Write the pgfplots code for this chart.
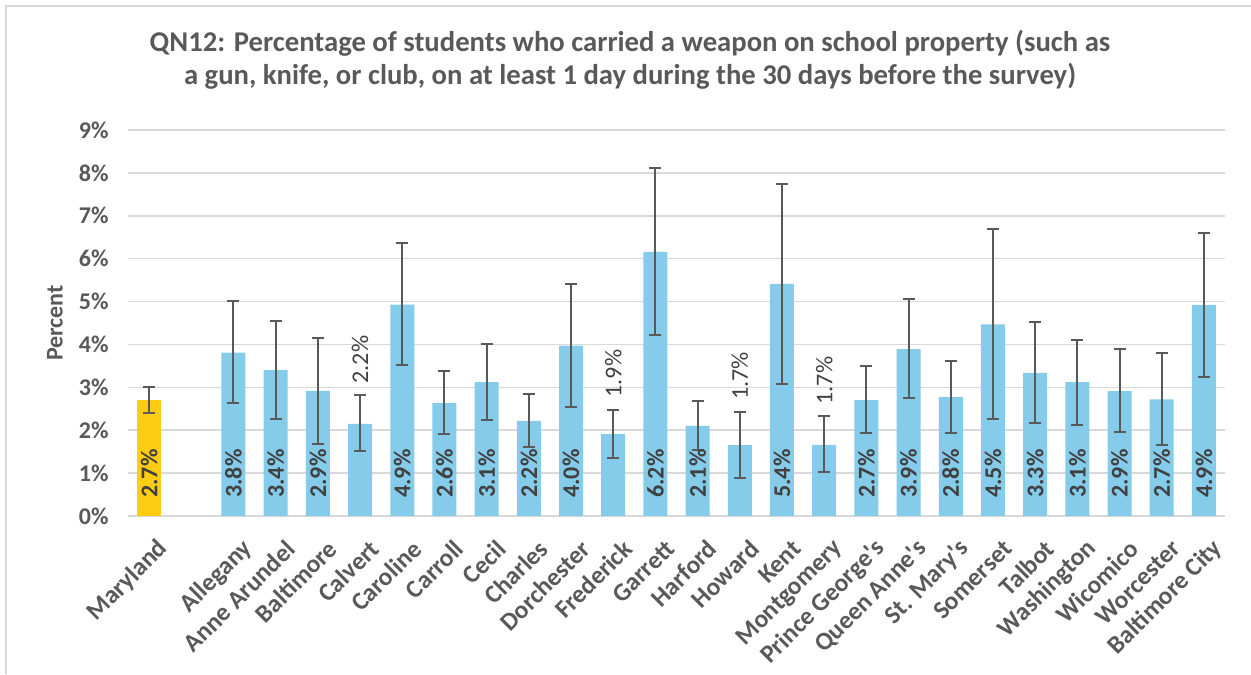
\documentclass[border=0pt]{standalone}
\usepackage{pgfplots}
\pgfplotsset{compat=1.18}
\usepackage{pgfplotstable}
\usepackage{fontspec}
\setmainfont{Carlito}
\definecolor{txt}{HTML}{595959}
\definecolor{lbl}{HTML}{404040}
\definecolor{barblue}{HTML}{85CBEA}
\definecolor{gold}{HTML}{FFCC14}
\definecolor{gridc}{HTML}{D9D9D9}
\definecolor{errc}{HTML}{595959}
\newcommand\tfont{\fontsize{18}{21.6}\selectfont\bfseries}
\newcommand\xfont{\fontsize{19}{23}\selectfont\bfseries}

\pgfplotstableread{
x y ep em
2 3.81 1.20 1.18
3 3.40 1.15 1.14
4 2.92 1.24 1.23
5 2.15 0.66 0.63
6 4.93 1.43 1.42
7 2.63 0.74 0.72
8 3.12 0.89 0.88
9 2.22 0.62 0.60
10 3.97 1.45 1.44
11 1.91 0.57 0.55
12 6.16 1.95 1.93
13 2.10 0.57 0.55
14 1.65 0.77 0.76
15 5.41 2.32 2.33
16 1.66 0.66 0.63
17 2.70 0.79 0.76
18 3.89 1.17 1.15
19 2.77 0.84 0.83
20 4.47 2.23 2.21
21 3.34 1.19 1.18
22 3.12 0.99 0.99
23 2.91 0.98 0.96
24 2.72 1.07 1.07
25 4.92 1.68 1.68
}\county

\pgfplotstableread{
x y ep em
0 2.70 0.31 0.29
}\state

\pgfplotstableread{
x ly lab
0 0 2.7
2 0 3.8
3 0 3.4
4 0 2.9
6 0 4.9
7 0 2.6
8 0 3.1
9 0 2.2
10 0 4.0
12 0 6.2
13 0 2.1
15 0 5.4
17 0 2.7
18 0 3.9
19 0 2.8
20 0 4.5
21 0 3.3
22 0 3.1
23 0 2.9
24 0 2.7
25 0 4.9
}\inlab

\pgfplotstableread{
x ly lab
5 2.81 2.2
11 2.48 1.9
14 2.42 1.7
16 2.32 1.7
}\outlab

\begin{document}
\begin{tikzpicture}
\draw[gridc, line width=1pt] (4.5pt,0) -- (4.5pt,501pt) -- (938.25pt,501pt);
\node[anchor=base, font=\fontsize{21.5}{25}\selectfont\bfseries, text=txt] at (472.5pt,467pt)
  {QN12: Percentage of students who carried a weapon on school property (such as};
\node[anchor=base, font=\fontsize{21.5}{25}\selectfont\bfseries, text=txt] at (472.5pt,442pt)
  {a gun, knife, or club, on at least 1 day during the 30 days before the survey)};
\begin{axis}[
  at={(96pt,118.5pt)}, anchor=south west,
  scale only axis, width=822.75pt, height=289.5pt,
  xmin=-0.5, xmax=25.5, ymin=0, ymax=9,
  clip=false,
  axis line style={draw=none},
  tick style={draw=none},
  ymajorgrids,
  major grid style={gridc, line width=1.1pt},
  ytick={0,1,2,3,4,5,6,7,8,9},
  yticklabels={0\%,1\%,2\%,3\%,4\%,5\%,6\%,7\%,8\%,9\%},
  yticklabel style={font=\tfont, text=txt, xshift=-11pt},
  xtick={0,2,3,4,5,6,7,8,9,10,11,12,13,14,15,16,17,18,19,20,21,22,23,24,25},
  xticklabels={Maryland,Allegany,Anne Arundel,Baltimore,Calvert,Caroline,Carroll,Cecil,Charles,Dorchester,Frederick,Garrett,Harford,Howard,Kent,Montgomery,Prince George\textquotesingle s,Queen Anne\textquotesingle s,St. Mary\textquotesingle s,Somerset,Talbot,Washington,Wicomico,Worcester,Baltimore City},
  xticklabel style={font=\xfont, text=txt, rotate=45, anchor=east, yshift=-23pt, xshift=-4pt},
  ylabel={Percent},
  every axis y label/.style={at={(axis description cs:-0.0665,0.5)}, rotate=90, anchor=center, font=\tfont, text=txt},
]
\addplot[ybar, bar width=18pt, bar shift=0pt, fill=gold, draw=none,
  error bars/.cd, y dir=both, y explicit,
  error bar style={draw=errc, line width=1.5pt},
  error mark options={draw=errc, line width=1.5pt, mark size=4.5pt, rotate=90}]
  table[x=x, y=y, y error plus=ep, y error minus=em]{\state};
\addplot[ybar, bar width=18pt, bar shift=0pt, fill=barblue, draw=none,
  error bars/.cd, y dir=both, y explicit,
  error bar style={draw=errc, line width=1.5pt},
  error mark options={draw=errc, line width=1.5pt, mark size=4.5pt, rotate=90}]
  table[x=x, y=y, y error plus=ep, y error minus=em]{\county};
\addplot[only marks, mark=none, point meta=explicit symbolic,
  nodes near coords={\pgfplotspointmeta\%},
  every node near coord/.style={rotate=90, anchor=west, font=\tfont, text=lbl, inner xsep=13.5pt, inner ysep=0pt}]
  table[x=x, y=ly, meta=lab]{\inlab};
\addplot[only marks, mark=none, point meta=explicit symbolic,
  nodes near coords={\pgfplotspointmeta\%},
  every node near coord/.style={rotate=90, anchor=west, font=\fontsize{18}{21.6}\selectfont, text=lbl, inner xsep=9pt, inner ysep=0pt}]
  table[x=x, y=ly, meta=lab]{\outlab};
\end{axis}
\pgfresetboundingbox
\useasboundingbox (0,0) rectangle (938.25pt,505.5pt);
\end{tikzpicture}
\end{document}
